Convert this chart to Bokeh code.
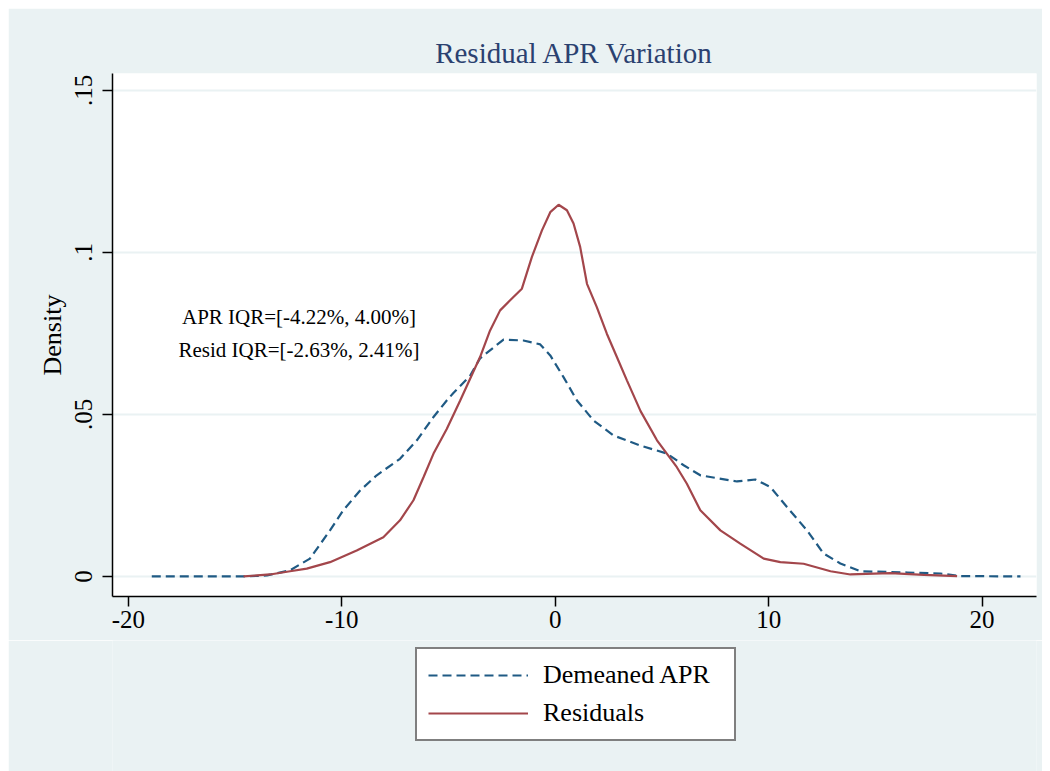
from bokeh.plotting import figure
from bokeh.layouts import column
from bokeh.models import (FixedTicker, CustomJSTickFormatter, Legend, LegendItem,
                          ColumnDataSource)
from bokeh.core.properties import value
from bokeh.embed import file_html
from bokeh.resources import INLINE

# ---- data ----
apr_x = [-18.9, -14.6, -13.5, -12.42, -11.49, -10.55, -9.93, -9.14, -8.36, -7.27, -6.48,
         -5.7, -5.08, -4.78, -3.98, -3.52, -2.42, -1.49, -0.7, -0.23, 0.39, 1.02, 1.8,
         2.73, 3.98, 5.24, 6.02, 6.8, 8.52, 9.38, 10.08, 10.86, 11.8, 12.57, 13.36, 14.3,
         16.5, 18.05, 19.0, 21.8]
apr_y = [0.0, 0.0, 0.0003, 0.0019, 0.0055, 0.0142, 0.0204, 0.0265, 0.0312, 0.0363, 0.042,
         0.0492, 0.0543, 0.0565, 0.062, 0.0673, 0.0731, 0.0728, 0.0716, 0.0682, 0.0615,
         0.0543, 0.0481, 0.0435, 0.0404, 0.0379, 0.0343, 0.0312, 0.0293, 0.0299, 0.0276,
         0.0214, 0.0142, 0.0071, 0.004, 0.0016, 0.0012, 0.0009, 0.0001, 0.0]

res_x = [-14.6, -13.36, -12.42, -11.64, -10.55, -9.3, -8.05, -7.27, -6.64, -6.17, -5.7,
         -5.08, -4.45, -3.52, -3.05, -2.58, -2.11, -1.56, -1.09, -0.62, -0.23, 0.16, 0.55,
         0.86, 1.17, 1.49, 1.95, 2.42, 2.89, 3.36, 4.0, 4.77, 5.7, 6.17, 6.8, 7.74, 8.67,
         9.77, 10.55, 11.64, 12.9, 13.83, 15.7, 17.27, 18.83]
res_y = [0.0, 0.0006, 0.0016, 0.0024, 0.0044, 0.008, 0.0121, 0.0173, 0.0235, 0.0306, 0.0379,
         0.0455, 0.0543, 0.0677, 0.0759, 0.0821, 0.0852, 0.0888, 0.0986, 0.1068, 0.1124,
         0.1147, 0.113, 0.1089, 0.1017, 0.0903, 0.0831, 0.0749, 0.0677, 0.0605, 0.051,
         0.042, 0.0337, 0.0286, 0.0204, 0.0142, 0.0101, 0.0055, 0.0044, 0.0039, 0.0016,
         0.0006, 0.001, 0.0005, 0.0001]

x_ticks = [-20, -10, 0, 10, 20]
x_tick_labels = ["-20", "-10", "0", "10", "20"]
y_ticks = [0, 0.05, 0.1, 0.15]
y_tick_labels = ["0", ".05", ".1", ".15"]

note_x = [-12, -12]
note_y = [0.08, 0.07]
note_text = ["APR IQR=[-4.22%, 4.00%]", "Resid IQR=[-2.63%, 2.41%]"]

series_names = ["Demeaned APR", "Residuals"]
title_text = "Residual APR Variation"
y_label = "Density"

# ---- styling ----
FONT = "Liberation Serif"
BG = "#EAF2F3"
NAVY = "#1F5A84"
MAROON = "#A3464B"
DASH = "9 5"

p = figure(width=1034, height=632, output_backend="svg", toolbar_location=None,
           x_range=(-20.74, 22.55), y_range=(-0.0062, 0.1552),
           min_border_left=104, min_border_right=6, min_border_top=65,
           min_border_bottom=44)
p.background_fill_color = "white"
p.border_fill_color = BG
p.outline_line_color = None

p.title.text = title_text
p.title.align = "center"
p.title.text_font = FONT
p.title.text_font_size = "29px"
p.title.text_font_style = "normal"
p.title.text_color = "#2B4170"
p.title.standoff = 9

fmt_code = """
for (let i = 0; i < vals.length; i++) {
  if (Math.abs(tick - vals[i]) < 1e-9) { return labs[i]; }
}
return '';
"""

xa = p.xaxis[0]
xa.ticker = FixedTicker(ticks=x_ticks)
xa.formatter = CustomJSTickFormatter(args=dict(vals=x_ticks, labs=x_tick_labels), code=fmt_code)
ya = p.yaxis[0]
ya.ticker = FixedTicker(ticks=y_ticks)
ya.formatter = CustomJSTickFormatter(args=dict(vals=y_ticks, labs=y_tick_labels), code=fmt_code)
ya.major_label_orientation = "vertical"
ya.axis_label = y_label
ya.axis_label_text_font = FONT
ya.axis_label_text_font_size = "26px"
ya.axis_label_text_font_style = "normal"
ya.axis_label_text_color = "black"
ya.axis_label_standoff = 6

for ax in (xa, ya):
    ax.axis_line_color = "black"
    ax.axis_line_width = 1.5
    ax.major_tick_line_color = "black"
    ax.major_tick_line_width = 1.5
    ax.major_tick_out = 10
    ax.major_tick_in = 0
    ax.minor_tick_line_color = None
    ax.major_label_text_font = FONT
    ax.major_label_text_font_size = "25px"
    ax.major_label_text_color = "black"
xa.major_label_standoff = 4
ya.major_label_standoff = 10

p.xgrid.grid_line_color = None
p.ygrid.grid_line_color = BG
p.ygrid.grid_line_width = 2
p.ygrid.ticker = FixedTicker(ticks=y_ticks)

r1 = p.line(apr_x, apr_y, line_color=NAVY, line_width=2.2, line_dash=DASH)
r2 = p.line(res_x, res_y, line_color=MAROON, line_width=2.2)

src = ColumnDataSource(dict(x=note_x, y=note_y, t=note_text))
p.text(x="x", y="y", text="t", source=src, text_align="center", text_baseline="middle",
       text_font=value(FONT), text_font_size="21px", text_color="black")

# ---- legend strip below the plot (same background) ----
# its ranges are far from the data, so its lines only serve as legend samples
q = figure(width=1034, height=131, output_backend="svg", toolbar_location=None,
           x_axis_location=None, y_axis_location=None, min_border=0,
           x_range=(100, 101), y_range=(100, 101))
q.background_fill_color = BG
q.border_fill_color = BG
q.outline_line_color = None
q.grid.grid_line_color = None
k1 = q.line(apr_x, apr_y, line_color=NAVY, line_width=2.2, line_dash=DASH)
k2 = q.line(res_x, res_y, line_color=MAROON, line_width=2.2)

legend = Legend(items=[LegendItem(label=series_names[0], renderers=[k1]),
                       LegendItem(label=series_names[1], renderers=[k2])],
                location=(303, 30), orientation="vertical")
legend.label_text_font = FONT
legend.label_text_font_size = "26px"
legend.label_text_color = "black"
legend.label_standoff = 15
legend.label_width = 180
legend.glyph_width = 100
legend.glyph_height = 26
legend.label_height = 26
legend.spacing = 8
legend.padding = 11
legend.margin = 0
legend.border_line_color = "black"
legend.border_line_width = 2
legend.background_fill_color = "white"
legend.background_fill_alpha = 1
q.add_layout(legend, "center")

layout = column(p, q, spacing=0)
layout.margin = (8, 8, 0, 8)

open("out.html", "w").write(file_html(layout, INLINE))
